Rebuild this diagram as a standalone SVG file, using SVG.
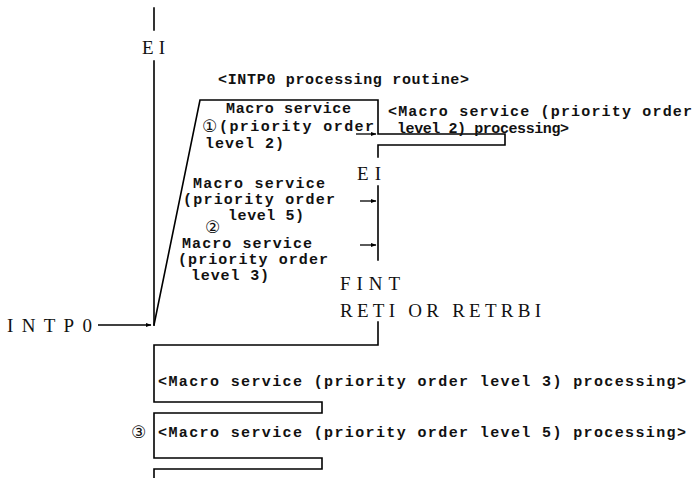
<svg xmlns="http://www.w3.org/2000/svg" width="699" height="478" viewBox="0 0 699 478">
<defs>
<style>
.ln{fill:none;stroke:#000;stroke-width:1.6;stroke-linecap:square}
.ar{fill:none;stroke:#000;stroke-width:1.3}
.m{font-family:"Liberation Mono","DejaVu Sans Mono",monospace;font-size:15px;font-weight:bold;fill:#111;letter-spacing:1px}
.s{font-family:"Liberation Serif","DejaVu Serif",serif;font-size:19px;fill:#111}
.c{font-family:"DejaVu Sans","Noto Sans CJK JP",sans-serif;font-size:17px;fill:#111}
</style>
<marker id="ah" markerWidth="6" markerHeight="6" refX="5.5" refY="3" orient="auto" markerUnits="userSpaceOnUse">
<path d="M0,0.8 L6,3 L0,5.2 Z" fill="#000"/>
</marker>
</defs>
<g id="connectors">
<path class="ln" d="M154,8 V30 M154,61 V325"/>
<path class="ln" d="M154,325 L200,100 H378 V134 H505 V145 H378 V157"/>
<path class="ln" d="M378,186 V260"/>
<path class="ln" d="M378,322 V345 H154 V402 H322 V413 H154 V458 H322 V469 H154 V478"/>
<path class="ar" d="M356,134 H376" marker-end="url(#ah)"/>
<path class="ar" d="M360,201 H376" marker-end="url(#ah)"/>
<path class="ar" d="M360,245 H376" marker-end="url(#ah)"/>
<path class="ar" d="M98,325 H151" marker-end="url(#ah)"/>
</g>
<g id="ei-top"><text class="s" x="142" y="54" textLength="23" lengthAdjust="spacing">EI</text></g>
<g id="routine-title"><text class="m" x="218" y="84" textLength="252" lengthAdjust="spacing">&lt;INTP0 processing routine&gt;</text></g>
<g id="ms1">
<text class="m" x="226" y="113" textLength="126" lengthAdjust="spacing">Macro service</text>
<text class="c" x="202" y="132">①</text>
<text class="m" x="219" y="131" textLength="156" lengthAdjust="spacing">(priority order</text>
<text class="m" x="205" y="148" textLength="80" lengthAdjust="spacing">level 2)</text>
</g>
<g id="ms1-proc">
<text class="m" x="388" y="116" textLength="305" lengthAdjust="spacing">&lt;Macro service (priority order</text>
<text class="m" x="397" y="133" textLength="173" lengthAdjust="spacing">level 2) processing&gt;</text>
</g>
<g id="ei-mid"><text class="s" x="357" y="180" textLength="24" lengthAdjust="spacing">EI</text></g>
<g id="ms2">
<text class="m" x="193" y="188" textLength="133" lengthAdjust="spacing">Macro service</text>
<text class="m" x="183" y="204" textLength="153" lengthAdjust="spacing">(priority order</text>
<text class="m" x="228" y="220" textLength="77" lengthAdjust="spacing">level 5)</text>
<text class="c" x="205" y="233">②</text>
<text class="m" x="182" y="248" textLength="131" lengthAdjust="spacing">Macro service</text>
<text class="m" x="178" y="264" textLength="151" lengthAdjust="spacing">(priority order</text>
<text class="m" x="191" y="280" textLength="79" lengthAdjust="spacing">level 3)</text>
</g>
<g id="fint">
<text class="s" x="340" y="290" textLength="60" lengthAdjust="spacing">FINT</text>
<text class="s" x="340" y="317" textLength="201" lengthAdjust="spacing">RETI OR RETRBI</text>
</g>
<g id="intp0"><text class="s" x="7" y="332" textLength="85" lengthAdjust="spacing">INTP0</text></g>
<g id="proc3"><text class="m" x="158" y="386" textLength="529" lengthAdjust="spacing">&lt;Macro service (priority order level 3) processing&gt;</text></g>
<g id="proc5">
<text class="c" x="131" y="438">③</text>
<text class="m" x="158" y="437" textLength="529" lengthAdjust="spacing">&lt;Macro service (priority order level 5) processing&gt;</text>
</g>
</svg>
